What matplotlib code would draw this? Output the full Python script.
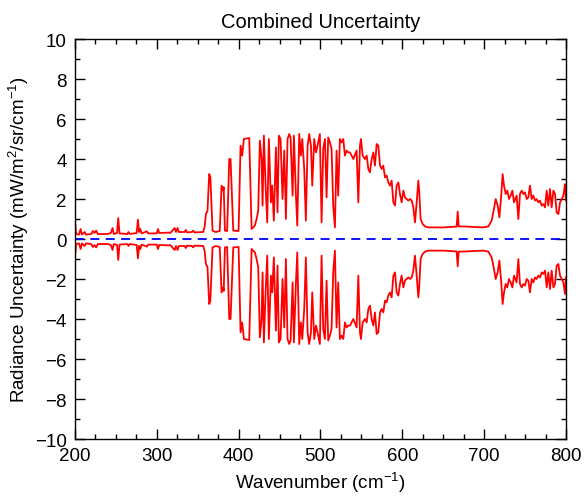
import numpy as np
import matplotlib
matplotlib.use("Agg")
import matplotlib.pyplot as plt
from matplotlib.ticker import MultipleLocator

plt.rcParams['font.family'] = ['Liberation Sans', 'DejaVu Sans']
plt.rcParams['mathtext.default'] = 'regular'

# Upper envelope of the combined uncertainty (the lower trace is its mirror)
wavenumber = [
    200.0, 201.5, 205.0, 207.0, 208.5, 212.0, 213.5, 220.0, 222.0, 224.0,
    226.0, 228.0, 240.0, 244.0, 246.0, 247.5, 251.5, 253.0, 254.5, 264.0,
    265.5, 267.0, 275.5, 277.0, 278.5, 280.0, 281.5, 288.0, 289.5, 300.0,
    301.5, 303.0, 315.0, 316.5, 322.0, 323.5, 325.5, 327.0, 334.0, 335.5,
    337.0, 343.0, 344.5, 346.0, 356.8, 358.5, 360.1, 362.0, 364.1, 365.5,
    368.2, 372.0, 377.0, 379.2, 381.2, 381.8, 383.3, 386.0, 388.6, 390.2,
    393.5, 400.0, 402.4, 404.4, 406.5, 413.0, 415.9, 419.9, 422.0, 424.0,
    426.0, 428.1, 429.3, 430.9, 433.0, 435.0, 437.0, 439.5, 441.1, 443.1,
    445.6, 447.6, 449.2, 451.3, 453.7, 455.8, 457.8, 459.8, 461.9, 463.5,
    466.0, 467.6, 470.0, 471.7, 474.1, 476.1, 477.8, 480.2, 482.2, 484.3,
    486.3, 488.4, 490.0, 492.4, 494.5, 496.5, 499.3, 501.4, 503.4, 505.5,
    507.5, 509.5, 511.6, 513.6, 515.6, 517.7, 519.7, 521.7, 523.8, 525.8,
    527.9, 529.9, 531.9, 534.0, 536.1, 540.2, 544.2, 546.3, 548.3, 549.5,
    551.6, 554.4, 556.5, 558.5, 560.5, 562.6, 564.6, 566.6, 568.7, 570.7,
    572.8, 574.8, 576.8, 578.9, 580.9, 582.9, 585.0, 587.0, 589.1, 591.1,
    593.1, 595.2, 597.2, 599.2, 601.3, 603.3, 605.3, 607.4, 609.4, 611.5,
    613.5, 615.5, 617.6, 619.6, 620.8, 622.4, 624.9, 627.7, 631.8, 650.1,
    666.4, 667.7, 668.9, 678.7, 699.0, 705.1, 709.2, 712.0, 714.1, 715.3,
    716.5, 718.6, 720.6, 722.6, 724.3, 726.3, 728.3, 730.4, 732.4, 734.5,
    736.5, 739.7, 741.8, 743.8, 745.9, 747.9, 749.9, 752.0, 754.0, 756.0,
    758.1, 760.1, 762.2, 764.2, 766.2, 768.3, 770.3, 772.3, 774.4, 776.4,
    778.4, 780.5, 782.5, 784.6, 786.6, 788.6, 790.7, 792.7, 794.7, 796.8,
    798.8, 800.0,
]
uncertainty = [
    1.00, 0.25, 0.22, 0.50, 0.22, 0.35, 0.22, 0.25, 0.40, 0.30,
    0.42, 0.25, 0.25, 0.30, 0.55, 0.25, 0.30, 1.05, 0.28, 0.25,
    0.35, 0.25, 0.30, 0.97, 0.35, 0.50, 0.28, 0.38, 0.28, 0.28,
    0.50, 0.30, 0.32, 0.30, 0.55, 0.35, 0.55, 0.35, 0.35, 0.45,
    0.33, 0.35, 0.42, 0.33, 0.35, 0.60, 1.25, 1.40, 3.25, 3.10,
    0.42, 0.35, 0.40, 2.67, 2.42, 2.60, 0.42, 0.40, 4.00, 4.00,
    0.42, 0.40, 4.67, 4.17, 5.00, 5.05, 0.50, 0.67, 1.00, 1.42,
    4.92, 4.00, 1.67, 5.17, 2.67, 0.83, 5.00, 1.83, 2.67, 0.92,
    4.58, 1.33, 5.17, 5.00, 2.00, 4.42, 1.00, 5.00, 5.25, 5.08,
    2.17, 5.17, 2.25, 0.67, 5.25, 4.17, 5.00, 3.50, 0.92, 4.67,
    5.25, 4.67, 2.67, 5.00, 4.33, 4.67, 5.25, 0.83, 4.50, 5.00,
    2.08, 5.08, 4.83, 4.50, 1.67, 0.58, 4.42, 2.17, 5.00, 4.83,
    5.00, 4.17, 4.42, 4.33, 4.33, 4.00, 4.42, 1.83, 4.67, 5.00,
    4.17, 4.00, 4.17, 3.50, 3.33, 4.00, 4.33, 3.67, 4.75, 4.67,
    3.67, 3.50, 3.67, 3.08, 3.17, 2.83, 2.67, 2.92, 1.83, 1.67,
    2.67, 2.83, 2.25, 1.83, 2.42, 2.08, 2.00, 1.92, 2.00, 1.92,
    1.58, 0.83, 1.83, 2.92, 2.33, 1.00, 0.75, 0.63, 0.58, 0.58,
    0.62, 1.37, 0.63, 0.62, 0.58, 0.63, 0.92, 1.50, 2.00, 1.83,
    1.67, 1.08, 2.00, 3.25, 2.67, 2.25, 2.42, 2.00, 2.17, 2.42,
    1.83, 2.17, 1.00, 2.25, 2.42, 2.25, 2.33, 2.00, 2.08, 2.67,
    2.00, 2.17, 1.92, 2.00, 1.83, 1.92, 1.67, 1.75, 1.58, 2.42,
    1.67, 2.50, 1.58, 2.42, 2.25, 1.33, 1.25, 1.83, 2.00, 2.17,
    2.75, 1.92,
]

wn = np.array(wavenumber)
unc = np.array(uncertainty)

fig = plt.figure(figsize=(5.85, 5.02), dpi=100)
ax = fig.add_axes([0.128, 0.1235, 0.8395, 0.7968])

ax.plot(wn, unc, color='red', linewidth=1.3)
ax.plot(wn, -unc, color='red', linewidth=1.3)
ax.axhline(0, color='blue', linestyle=(0, (5, 3.5)), linewidth=1.3)

ax.set_xlim(200, 800)
ax.set_ylim(-10, 10)
ax.xaxis.set_major_locator(MultipleLocator(100))
ax.xaxis.set_minor_locator(MultipleLocator(25))
ax.yaxis.set_major_locator(MultipleLocator(2))
ax.yaxis.set_minor_locator(MultipleLocator(1))
ax.tick_params(which='both', direction='in', top=True, right=True,
               labelsize=13.5, width=1.0)
ax.tick_params(which='major', length=7.5)
ax.tick_params(which='minor', length=3.5)
ax.tick_params(axis='x', pad=6)
ax.tick_params(axis='y', pad=6)
for s in ax.spines.values():
    s.set_linewidth(1.0)

ax.set_title('Combined Uncertainty', fontsize=14.5, pad=9)
ax.set_xlabel('Wavenumber (cm$^{-1}$)', fontsize=13.5, labelpad=4)
ax.set_ylabel('Radiance Uncertainty (mW/m$^{2}$/sr/cm$^{-1}$)', fontsize=13.5, labelpad=3)

fig.savefig('out.png', dpi=100)
